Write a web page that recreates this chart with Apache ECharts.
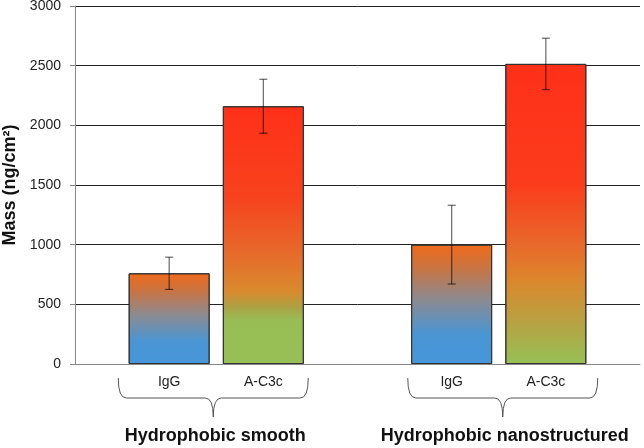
<!DOCTYPE html>
<html>
<head>
<meta charset="utf-8">
<script src="https://cdn.jsdelivr.net/npm/echarts@6/dist/echarts.min.js"></script>
<style>
  html, body { margin: 0; padding: 0; background: #fff; }
  #main { width: 644px; height: 448px; }
</style>
</head>
<body>
<div id="main"></div>
<script>
// slots on the x axis, empty ones are gaps
var categories = ['', 'IgG', 'A-C3c', '', 'IgG', 'A-C3c', '']
var groupNames = ['Hydrophobic smooth', 'Hydrophobic nanostructured']
var massValues = [null, 760, 2160, null, 1000, 2515, null]
var massErrors = [null, 135, 226, null, 330, 215, null]
var yTicks = [0, 500, 1000, 1500, 2000, 2500, 3000]

var FONT = 'Liberation Sans, Arial, sans-serif'

function grad(stops) {
  return new echarts.graphic.LinearGradient(0, 0, 0, 1,
    stops.map(function (s) { return { offset: s[0], color: s[1] } }))
}
var igGrad = [[0, '#f06a1a'], [0.2, '#c87444'], [0.45, '#8e8a8e'], [0.75, '#4a95d4'], [1, '#4596d9']]
var c3Smooth = [[0, '#ff3018'], [0.35, '#f7421d'], [0.55, '#e8662a'], [0.72, '#d98a2e'], [0.78, '#aaa244'], [0.83, '#98bd55'], [1, '#98c057']]
var c3Nano = [[0, '#ff3018'], [0.4, '#fb3c1c'], [0.6, '#e8682a'], [0.72, '#dc862c'], [0.86, '#b8a242'], [1, '#96c055']]
var fills = [null, igGrad, c3Smooth, null, igGrad, c3Nano, null]

var barData = massValues.map(function (v, i) {
  if (v === null) return null
  return { value: v, itemStyle: { color: grad(fills[i]) } }
})
var errData = massValues.map(function (v, i) {
  if (v === null) return [i, null, null]
  return [i, v - massErrors[i], v + massErrors[i]]
})

var myChart = echarts.init(document.getElementById('main'))
myChart.setOption({
  animation: false,
  grid: { left: 75, right: 4, top: 6, bottom: 84, containLabel: false, outerBoundsMode: 'none' },
  xAxis: {
    type: 'category',
    data: categories,
    boundaryGap: false,
    axisLine: { show: true, lineStyle: { color: '#888' } },
    axisTick: { show: false },
    axisLabel: { color: '#222', fontSize: 14, fontFamily: FONT, margin: 11, interval: 0 },
    splitLine: { show: false }
  },
  yAxis: {
    type: 'value',
    min: yTicks[0],
    max: yTicks[yTicks.length - 1],
    interval: 500,
    name: 'Mass (ng/cm²)',
    nameLocation: 'middle',
    nameGap: 51,
    nameTextStyle: { color: '#111', fontSize: 18, fontWeight: 'bold', fontFamily: FONT },
    axisLine: { show: true, lineStyle: { color: '#888' } },
    axisTick: { show: true, length: 5, lineStyle: { color: '#888' } },
    axisLabel: {
      color: '#222', fontSize: 14, fontFamily: FONT, margin: 14,
      formatter: function (v) { return String(v) }
    },
    splitLine: { show: true, lineStyle: { color: '#222', width: 1 } }
  },
  series: [
    {
      type: 'bar',
      data: barData,
      barWidth: 81,
      itemStyle: { borderColor: '#333', borderWidth: 1 }
    },
    {
      type: 'custom',
      data: errData,
      z: 10,
      renderItem: function (params, api) {
        if (api.value(1) === null || isNaN(api.value(1))) return null
        var lo = api.coord([api.value(0), api.value(1)])
        var hi = api.coord([api.value(0), api.value(2)])
        var w = 4
        var st = { stroke: 'rgba(0,0,0,0.6)', lineWidth: 1.2 }
        return {
          type: 'group',
          children: [
            { type: 'line', shape: { x1: lo[0], y1: lo[1], x2: hi[0], y2: hi[1] }, style: st },
            { type: 'line', shape: { x1: lo[0] - w, y1: lo[1], x2: lo[0] + w, y2: lo[1] }, style: st },
            { type: 'line', shape: { x1: hi[0] - w, y1: hi[1], x2: hi[0] + w, y2: hi[1] }, style: st }
          ]
        }
      }
    }
  ]
})

// braces and group labels under the two bar pairs
var braces = []
var braceStyle = { stroke: '#555', lineWidth: 1, fill: null }
function curve(x1, y1, cx, cy, x2, y2) {
  return { type: 'bezierCurve', shape: { x1: x1, y1: y1, cpx1: cx, cpy1: cy, x2: x2, y2: y2 }, style: braceStyle }
}
function seg(x1, y1, x2, y2) {
  return { type: 'line', shape: { x1: x1, y1: y1, x2: x2, y2: y2 }, style: braceStyle }
}
var braceShift = [-3, 4]
;[[1, 2], [4, 5]].forEach(function (pair, g) {
  var a = myChart.convertToPixel({ xAxisIndex: 0 }, pair[0])
  var b = myChart.convertToPixel({ xAxisIndex: 0 }, pair[1])
  var mid = (a + b) / 2 + braceShift[g]
  var x0 = mid - 95, x1 = mid + 95
  var top = 378, bot = 398, tip = 417
  braces.push(curve(x0, top, x0, bot, x0 + 8, bot))
  braces.push(seg(x0 + 8, bot, mid - 8, bot))
  braces.push(curve(mid - 8, bot, mid, bot, mid, tip))
  braces.push(curve(mid, tip, mid, bot, mid + 8, bot))
  braces.push(seg(mid + 8, bot, x1 - 8, bot))
  braces.push(curve(x1 - 8, bot, x1, bot, x1, top))
  braces.push({
    type: 'text', x: mid + 2, y: 436,
    style: { text: groupNames[g], fill: '#111', font: 'bold 18px ' + FONT, align: 'center', verticalAlign: 'middle' }
  })
})
myChart.setOption({ graphic: braces })
</script>
</body>
</html>
